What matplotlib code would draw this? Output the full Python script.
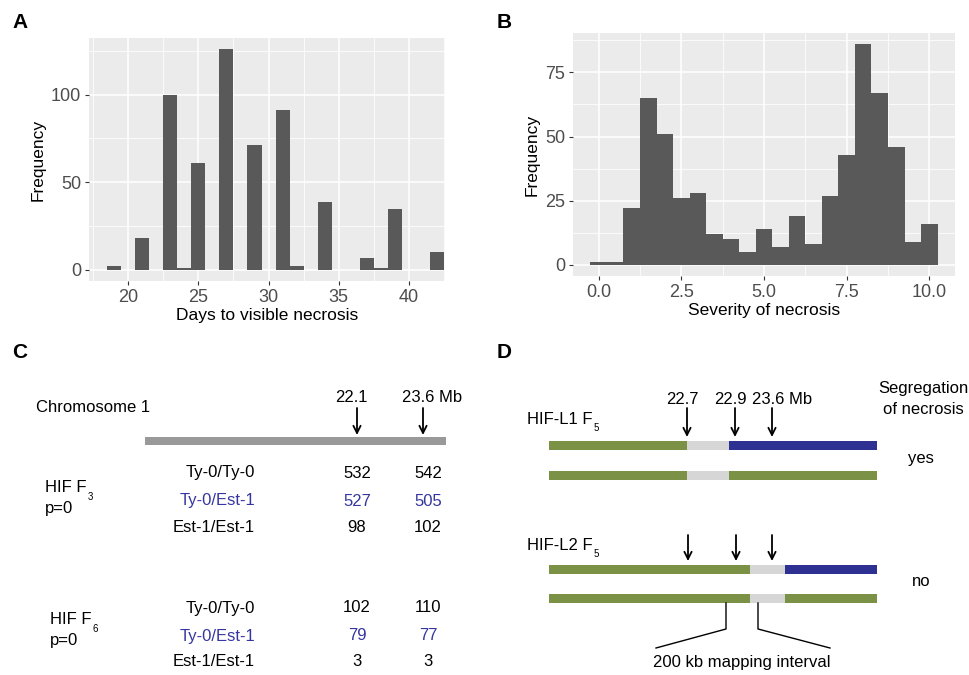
import matplotlib
matplotlib.use("Agg")
import matplotlib.pyplot as plt
from matplotlib.ticker import FixedLocator

plt.rcParams['font.family'] = ['Liberation Sans', 'DejaVu Sans']

# ---------------- data ----------------
days = [19, 21, 23, 24, 25, 27, 29, 31, 32, 34, 37, 38, 39, 42]
days_freq = [2, 18, 100, 1, 61, 126, 71, 91, 2, 39, 7, 1, 35, 10]

severity = [0.0, 0.5, 1.0, 1.5, 2.0, 2.5, 3.0, 3.5, 4.0, 4.5, 5.0,
            5.5, 6.0, 6.5, 7.0, 7.5, 8.0, 8.5, 9.0, 9.5, 10.0]
severity_freq = [1, 1, 22, 65, 51, 26, 28, 12, 10, 5, 14,
                 7, 19, 8, 27, 43, 86, 67, 46, 9, 16]

genotypes = ['Ty-0/Ty-0', 'Ty-0/Est-1', 'Est-1/Est-1']
c_markers = ['22.1', '23.6 Mb']
f3_counts_221 = [532, 527, 98]
f3_counts_236 = [542, 505, 102]
f6_counts_221 = [102, 79, 3]
f6_counts_236 = [110, 77, 3]
c_groups = ['HIF F', 'HIF F']
c_group_sub = ['3', '6']

d_markers = ['22.7', '22.9', '23.6 Mb']
d_lines = ['HIF-L1 F', 'HIF-L2 F']
d_line_sub = ['5', '5']
segregation = ['yes', 'no']

# ---------------- style ----------------
W, H = 970, 675
BAR = '#595959'
PANEL = '#EBEBEB'
TICKC = '#4D4D4D'
BLUE_TXT = '#3535A0'
GREEN = '#7B9146'
NAVY = '#2E3192'
LGRAY = '#D6D6D6'
CHR = '#999999'

fig = plt.figure(figsize=(9.7, 6.75), dpi=100)


def px_axes(l, t, r, b):
    return fig.add_axes([l / W, 1 - b / H, (r - l) / W, (b - t) / H])


def gg_style(ax, xmaj, xmin, ymaj, ymin, xlabel, ylabel, xfmt):
    ax.set_facecolor(PANEL)
    for s in ax.spines.values():
        s.set_visible(False)
    ax.xaxis.set_major_locator(FixedLocator(xmaj))
    ax.xaxis.set_minor_locator(FixedLocator(xmin))
    ax.yaxis.set_major_locator(FixedLocator(ymaj))
    ax.yaxis.set_minor_locator(FixedLocator(ymin))
    ax.set_xticklabels([xfmt(v) for v in xmaj])
    ax.set_yticklabels([str(int(v)) for v in ymaj])
    ax.grid(which='major', color='white', lw=1.1)
    ax.grid(which='minor', color='white', lw=0.55)
    ax.set_axisbelow(True)
    ax.tick_params(which='major', length=3, width=0.8, color='#333333',
                   labelsize=13, labelcolor=TICKC, pad=2.5)
    ax.tick_params(which='minor', length=0)
    ax.set_xlabel(xlabel, fontsize=12.5, labelpad=2)
    ax.set_ylabel(ylabel, fontsize=12.5, labelpad=4)


# Panel A
axA = px_axes(89, 38, 445, 281)
axA.bar(days, days_freq, width=1.0, color=BAR, linewidth=0)
axA.set_xlim(17.22, 42.56)
axA.set_ylim(-6.3, 132.3)
gg_style(axA, [20, 25, 30, 35, 40], [17.5, 22.5, 27.5, 32.5, 37.5, 42.5],
         [0, 50, 100], [25, 75, 125], 'Days to visible necrosis', 'Frequency',
         lambda v: str(int(v)))

# Panel B
axB = px_axes(573, 33, 955, 276)
axB.bar(severity, severity_freq, width=0.5, color=BAR, linewidth=0)
axB.set_xlim(-0.775, 10.775)
axB.set_ylim(-4.3, 90.3)
gg_style(axB, [0, 2.5, 5, 7.5, 10], [1.25, 3.75, 6.25, 8.75],
         [0, 25, 50, 75], [12.5, 37.5, 62.5, 87.5], 'Severity of necrosis',
         'Frequency', lambda v: f'{v:.1f}')

# Overlay for labels and schematics (pixel coordinates)
ov = fig.add_axes([0, 0, 1, 1], zorder=-1)
ov.set_xlim(0, W)
ov.set_ylim(H, 0)
ov.axis('off')

for lab, x, y in [('A', 12, 22), ('B', 497, 22), ('C', 12, 352), ('D', 497, 352)]:
    ov.text(x, y, lab, fontsize=15, fontweight='bold', ha='left', va='center')

FS = 12


def arrow(x, y0, y1):
    ov.annotate('', xy=(x, y1), xytext=(x, y0),
                arrowprops=dict(arrowstyle='->', lw=1.3, color='black',
                                mutation_scale=13, shrinkA=0, shrinkB=0))


# ---- Panel C ----
ov.text(36, 407, 'Chromosome 1', fontsize=FS, ha='left', va='center')
c_label_x = [351, 432]
c_arrow_x = [357, 423]
for lab, lx, axx in zip(c_markers, c_label_x, c_arrow_x):
    ov.text(lx, 398, lab, fontsize=FS, ha='center', va='center')
    arrow(axx, 408, 435)
ov.broken_barh([(145, 301)], (437, 8), facecolor=CHR, edgecolor='none')

col_x = [357, 428]
blocks = [(f3_counts_221, f3_counts_236, [473, 501, 527], 45, 488, 509),
          (f6_counts_221, f6_counts_236, [608, 636, 662], 50, 620, 641)]
for (c1, c2, rows, gx, gy, py), g, sub in zip(blocks, c_groups, c_group_sub):
    for gt, v1, v2, ry in zip(genotypes, c1, c2, rows):
        col = BLUE_TXT if gt == 'Ty-0/Est-1' else 'black'
        ov.text(255, ry, gt, fontsize=FS, ha='right', va='center', color=col)
        ov.text(col_x[0], ry, str(v1), fontsize=FS, ha='center', va='center', color=col)
        ov.text(col_x[1], ry, str(v2), fontsize=FS, ha='center', va='center', color=col)
    ov.text(gx, gy, g, fontsize=FS, ha='left', va='center')
    ov.text(gx + 45, gy + 9, sub, fontsize=7, ha='center', va='center')
    ov.text(gx, py, 'p=0', fontsize=FS, ha='left', va='center')

# ---- Panel D ----
ov.text(923, 389, 'Segregation', fontsize=FS, ha='center', va='center')
ov.text(923, 409, 'of necrosis', fontsize=FS, ha='center', va='center')
for lab, lx in zip(d_markers, [682, 730, 782]):
    ov.text(lx, 399, lab, fontsize=FS, ha='center', va='center')

line_specs = [
    (420, [687, 735, 772], 408, 437, 441, 471, (687, 729), 459),
    (546, [688, 736, 772], 535, 561, 565, 594, (750, 785), 581),
]
for (ly, axs, ay0, ay1, tb, bb, (b1, b2), sy), name, sub, seg in zip(
        line_specs, d_lines, d_line_sub, segregation):
    ov.text(527, ly, name, fontsize=FS, ha='left', va='center')
    ov.text(596, ly + 8, sub, fontsize=7, ha='center', va='center')
    for x in axs:
        arrow(x, ay0, ay1)
    ov.broken_barh([(549, b1 - 549), (b1, b2 - b1), (b2, 877 - b2)], (tb, 9),
                   facecolors=[GREEN, LGRAY, NAVY], edgecolor='none')
    ov.broken_barh([(549, b1 - 549), (b1, b2 - b1), (b2, 877 - b2)], (bb, 9),
                   facecolors=[GREEN, LGRAY, GREEN], edgecolor='none')
    ov.text(921, sy, seg, fontsize=FS, ha='center', va='center')

ov.plot([726, 726, 656], [603, 629, 648], color='black', lw=1.0)
ov.plot([758, 758, 830], [603, 629, 648], color='black', lw=1.0)
ov.text(742, 663, '200 kb mapping interval', fontsize=FS, ha='center', va='center')

fig.savefig('out.png', dpi=100)
